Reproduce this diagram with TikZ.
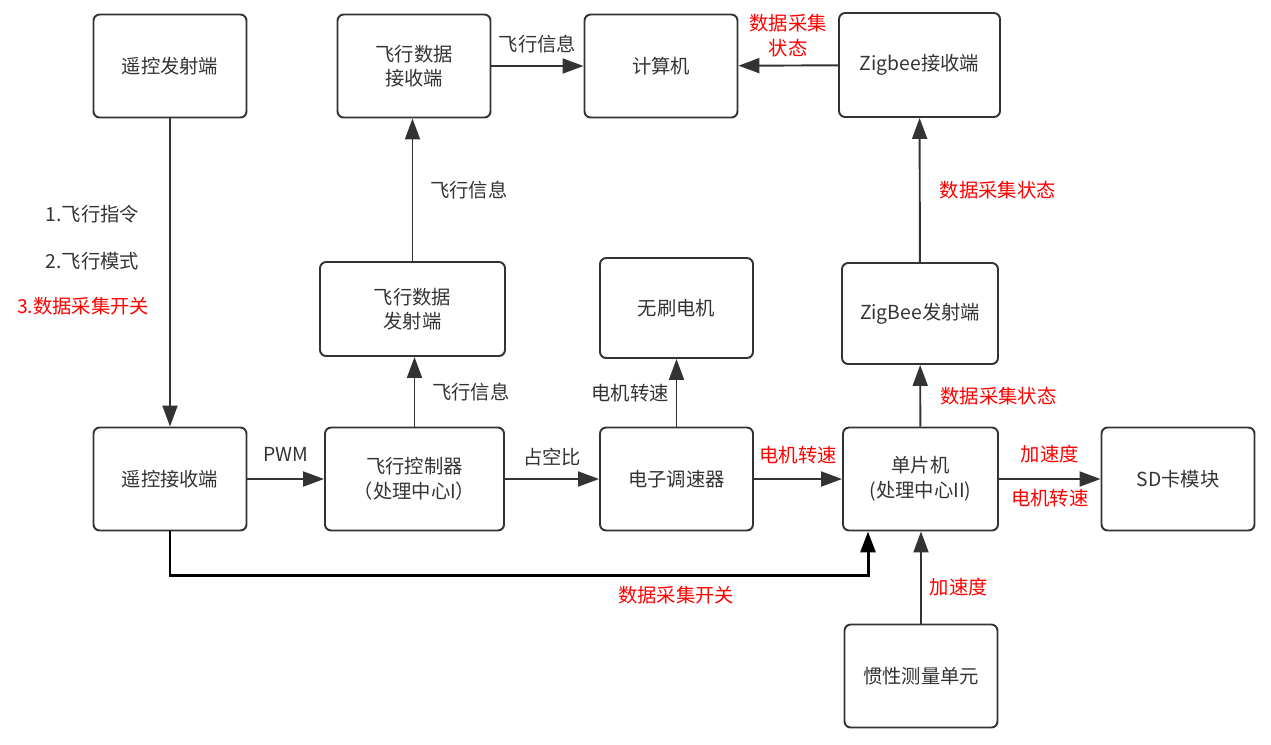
\documentclass[tikz,border=0pt]{standalone}
\usepackage{fontspec}
\newfontfamily\cjk{Noto Sans CJK SC}
\usetikzlibrary{arrows.meta, positioning, calc}
\definecolor{boxgray}{HTML}{333333}
\definecolor{labred}{HTML}{FF0000}
\tikzset{
	box/.style={rectangle, draw=boxgray, line width=1.1pt, rounded corners=3.5pt, align=center, minimum width=3.06cm, minimum height=2.06cm, text=boxgray},
	arr/.style={draw=boxgray, line width=1.1pt, -{Triangle[length=0.42cm, width=0.3cm]}},
	lab/.style={text=boxgray, inner sep=1pt, align=center},
	redlab/.style={text=labred, inner sep=1pt, align=center}
}

\begin{document}
\begin{tikzpicture}[font=\cjk\fontsize{11}{14}\selectfont]
        \useasboundingbox (0,0) rectangle (25.42,-14.88);

        \node[box] (tx) at (3.40, -1.32) {遥控发射端};
        \node[box] (rxdata) at (8.28, -1.32) {飞行数据\\接收端};
        \node[box] (pc) at (13.22, -1.32) {计算机};
        \node[box, minimum width=3.22cm, minimum height=2.08cm] (zrx) at (18.39, -1.30) {Zigbee接收端};

        \node[box, minimum width=3.70cm, minimum height=1.88cm] (txdata) at (8.25, -6.18) {飞行数据\\发射端};
        \node[box, minimum height=2.0cm] (motor) at (13.53, -6.16) {无刷电机};
        \node[box, minimum width=3.12cm, minimum height=2.02cm] (ztx) at (18.40, -6.27) {ZigBee发射端};

        \node[box] (rx) at (3.40, -9.58) {遥控接收端};
        \node[box, minimum width=3.58cm] (fc) at (8.29, -9.58) {飞行控制器\\（处理中心I）};
        \node[box] (esc) at (13.53, -9.58) {电子调速器};
        \node[box, minimum width=3.10cm] (mcu) at (18.41, -9.58) {单片机\\(处理中心II)};
        \node[box] (sd) at (23.56, -9.58) {SD卡模块};

        \node[box] (imu) at (18.42, -13.52) {惯性测量单元};

        \coordinate (swl) at (3.40, -11.50);
        \coordinate (swr) at (17.36, -11.50);

        \draw[arr] (tx) -- (rx)
            node[lab, pos=0.312, left=0.56cm] {1.飞行指令}
            node[lab, pos=0.463, left=0.56cm] {2.飞行模式}
            node[redlab, pos=0.608, left=0.36cm] {3.数据采集开关};
        \draw[arr] (rx) -- node[lab, above=0.3cm] {PWM} (fc);
        \draw[arr] (fc) -- node[lab, above=0.2cm] {占空比} (esc);
        \draw[arr] (esc) -- node[redlab, above=0.25cm] {电机转速} (mcu);
        \draw[arr] (mcu) -- node[redlab, above=0.27cm] {加速度} node[redlab, below=0.15cm] {电机转速} (sd);

        \draw[arr] (fc.north) -- node[lab, right=0.3cm] {飞行信息} (fc.north |- txdata.south);
        \draw[arr] (txdata.north) -- node[lab, right=0.3cm] {飞行信息} (txdata.north |- rxdata.south);
        \draw[arr] (rxdata) -- node[lab, above=0.2cm] {飞行信息} (pc);
        \draw[arr] (zrx) -- node[redlab, above=0.12cm] {数据采集\\状态} (pc);

        \draw[arr] (esc) -- node[lab, left=0.1cm] {电机转速} (motor);
        \draw[arr] (mcu) -- node[redlab, right=0.35cm] {数据采集状态} (ztx);
        \draw[arr] (ztx) -- node[redlab, right=0.35cm] {数据采集状态} (zrx);

        \draw[arr] (imu.north) -- node[redlab, right=0.12cm, pos=0.4] {加速度} (imu.north |- mcu.south);
        \draw[arr, draw=black, line width=1.7pt] (rx.south) -- (swl) -- node[redlab, below=0.15cm, pos=0.725] {数据采集开关} (swr) -- (swr |- mcu.south);
    \end{tikzpicture}
\end{document}
